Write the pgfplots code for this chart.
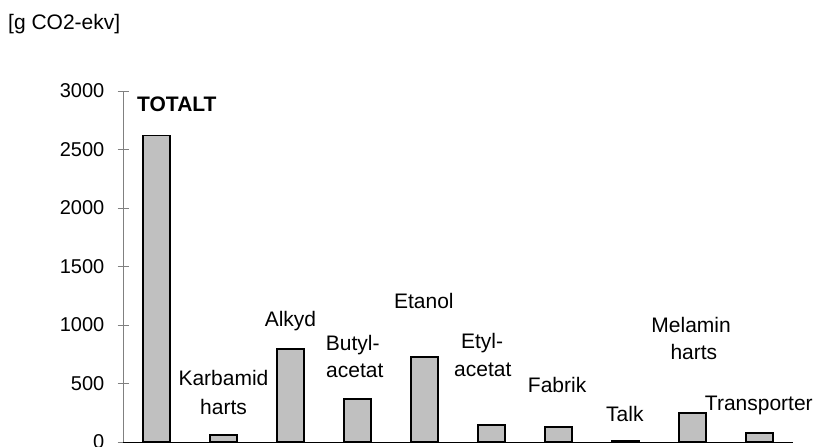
\documentclass[border=0pt]{standalone}
\usepackage{pgfplots}
\pgfplotsset{compat=1.18}
\usepackage{fontspec}
\setmainfont{Liberation Sans}
\definecolor{barfill}{RGB}{192,192,192}
\definecolor{axgray}{RGB}{128,128,128}
\begin{document}
\fontsize{21}{25}\selectfont
\begin{tikzpicture}[x=1pt,y=1pt]
\useasboundingbox (0,0) rectangle (814,447);
\node[anchor=base west, inner sep=0pt] at (8,417) {[g CO2-ekv]};
\begin{axis}[
  at={(123pt,5pt)}, anchor=south west,
  scale only axis, width=670pt, height=351pt,
  xmin=-0.5, xmax=9.5, ymin=0, ymax=3000,
  axis x line=bottom, axis y line=left,
  x axis line style={-, black, line width=0.8pt},
  y axis line style={-, axgray, line width=0.8pt},
  xtick=\empty,
  ytick={0,500,1000,1500,2000,2500,3000},
  tick align=center, major tick length=11pt,
  ytick style={axgray, line width=0.8pt},
  /pgf/number format/1000 sep={},
  /pgf/number format/assume math mode=true,
  yticklabel style={font=\fontsize{20}{24}\selectfont, anchor=east, xshift=-6pt},
  clip=false,
  ybar, bar width=27pt,
]
\addplot[fill=barfill, draw=black, line width=1.8pt] coordinates {
  (0,2620) (1,60) (2,795) (3,365) (4,727) (5,145) (6,130) (7,10) (8,248) (9,77)
};
\tikzset{lbl/.style={anchor=base, inner sep=0pt}}
\node[anchor=base west, inner sep=0pt, font=\bfseries] at (axis cs:-0.291,2829) {TOTALT};
\node[lbl] at (axis cs:1.0,487) {Karbamid};
\node[lbl] at (axis cs:1.0,231) {harts};
\node[lbl] at (axis cs:2.0,983) {Alkyd};
\node[lbl] at (axis cs:2.93,786) {Butyl-};
\node[lbl] at (axis cs:2.96,547) {acetat};
\node[lbl] at (axis cs:3.99,1145) {Etanol};
\node[lbl] at (axis cs:4.86,803) {Etyl-};
\node[lbl] at (axis cs:4.87,556) {acetat};
\node[lbl] at (axis cs:5.98,427) {Fabrik};
\node[lbl] at (axis cs:6.99,171) {Talk};
\node[lbl] at (axis cs:7.98,940) {Melamin};
\node[lbl] at (axis cs:8.02,701) {harts};
\node[lbl] at (axis cs:8.99,265) {Transporter};
\end{axis}
\end{tikzpicture}
\end{document}
